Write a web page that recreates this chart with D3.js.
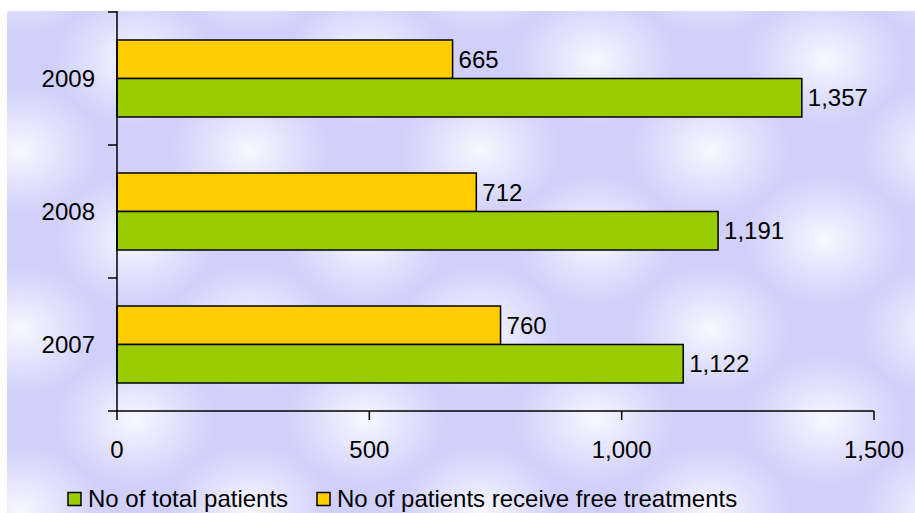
<!DOCTYPE html>
<html>
<head>
<meta charset="utf-8">
<script src="https://cdn.jsdelivr.net/npm/d3@7"></script>
<style>
  body { margin: 0; background: #ffffff; }
  svg text { font-family: "Liberation Sans", Arial, sans-serif; fill: #000; }
</style>
</head>
<body>
<div class="chart"></div>
<script>
// Chart data
var years = ["2009", "2008", "2007"];
var totalPatients = [1357, 1191, 1122];
var freePatients = [665, 712, 760];
var xTicks = [0, 500, 1000, 1500];
var seriesNames = ["No of total patients", "No of patients receive free treatments"];
var seriesColors = ["#99cc00", "#ffcc00"];

var svgWidth = 915;
var svgHeight = 513;

var svg = d3.select(".chart")
  .append("svg")
  .attr("width", svgWidth)
  .attr("height", svgHeight);

// Lavender texture background
var defs = svg.append("defs");
var glow = defs.append("radialGradient").attr("id", "glow");
glow.append("stop").attr("offset", "0%").attr("stop-color", "#ffffff").attr("stop-opacity", 0.85);
glow.append("stop").attr("offset", "50%").attr("stop-color", "#ffffff").attr("stop-opacity", 0.4);
glow.append("stop").attr("offset", "100%").attr("stop-color", "#ffffff").attr("stop-opacity", 0);

var tile = defs.append("pattern")
  .attr("id", "tex")
  .attr("patternUnits", "userSpaceOnUse")
  .attr("x", 20).attr("y", -30)
  .attr("width", 230).attr("height", 180);
tile.append("rect").attr("width", 230).attr("height", 180).attr("fill", "#d0d0fb");
[[0, 0], [230, 0], [0, 180], [230, 180], [115, 90]].forEach(function(p) {
  tile.append("ellipse")
    .attr("cx", p[0]).attr("cy", p[1])
    .attr("rx", 80).attr("ry", 65)
    .attr("fill", "url(#glow)");
});

svg.append("rect")
  .attr("x", 7).attr("y", 11)
  .attr("width", svgWidth - 7).attr("height", svgHeight - 11)
  .attr("fill", "url(#tex)");

// Plot area
var plotLeft = 117, plotRight = 874, plotTop = 12, plotBottom = 411;

var xScale = d3.scaleLinear().domain([0, 1500]).range([plotLeft, plotRight]);
var yBand = d3.scaleBand().domain(years).range([plotTop, plotBottom]);
var barH = 38.5;
var barPad = (yBand.bandwidth() - 2 * barH) / 2;
var fmt = d3.format(",");

// Bars
var chart = svg.append("g");
years.forEach(function(yr, i) {
  var y0 = yBand(yr) + barPad;
  chart.append("rect")
    .attr("x", xScale(0)).attr("y", y0)
    .attr("width", xScale(freePatients[i]) - xScale(0)).attr("height", barH)
    .attr("fill", seriesColors[1]).attr("stroke", "#000").attr("stroke-width", 1.5);
  chart.append("rect")
    .attr("x", xScale(0)).attr("y", y0 + barH)
    .attr("width", xScale(totalPatients[i]) - xScale(0)).attr("height", barH)
    .attr("fill", seriesColors[0]).attr("stroke", "#000").attr("stroke-width", 1.5);

  chart.append("text")
    .attr("x", xScale(freePatients[i]) + 6).attr("y", y0 + barH / 2)
    .attr("dy", "0.36em")
    .attr("font-size", 24)
    .text(fmt(freePatients[i]));
  chart.append("text")
    .attr("x", xScale(totalPatients[i]) + 6).attr("y", y0 + barH * 1.5)
    .attr("dy", "0.36em")
    .attr("font-size", 24)
    .text(fmt(totalPatients[i]));
});

// Y axis
var yAxis = svg.append("g");
yAxis.append("line")
  .attr("x1", plotLeft).attr("x2", plotLeft).attr("y1", plotTop - 1).attr("y2", plotBottom)
  .attr("stroke", "#000").attr("stroke-width", 1.5);
years.concat(["end"]).forEach(function(yr, i) {
  var yy = i < years.length ? yBand(yr) : plotBottom;
  yAxis.append("line")
    .attr("x1", plotLeft - 9).attr("x2", plotLeft).attr("y1", yy).attr("y2", yy)
    .attr("stroke", "#000").attr("stroke-width", 1.5);
});
years.forEach(function(yr) {
  yAxis.append("text")
    .attr("x", 95).attr("y", yBand(yr) + yBand.bandwidth() / 2)
    .attr("dy", "0.36em")
    .attr("text-anchor", "end")
    .attr("font-size", 24)
    .text(yr);
});

// X axis
var xAxis = svg.append("g");
xAxis.append("line")
  .attr("x1", plotLeft).attr("x2", plotRight).attr("y1", plotBottom).attr("y2", plotBottom)
  .attr("stroke", "#000").attr("stroke-width", 1.5);
xTicks.forEach(function(t) {
  xAxis.append("line")
    .attr("x1", xScale(t)).attr("x2", xScale(t)).attr("y1", plotBottom).attr("y2", plotBottom + 9)
    .attr("stroke", "#000").attr("stroke-width", 1.5);
  xAxis.append("text")
    .attr("x", xScale(t)).attr("y", 458)
    .attr("text-anchor", "middle")
    .attr("font-size", 24)
    .text(fmt(t));
});

// Legend
var legendX = [68, 317];
seriesNames.forEach(function(name, i) {
  svg.append("rect")
    .attr("x", legendX[i]).attr("y", 492.5)
    .attr("width", 13).attr("height", 13)
    .attr("fill", seriesColors[i]).attr("stroke", "#000").attr("stroke-width", 1.5);
  svg.append("text")
    .attr("x", legendX[i] + 20).attr("y", 507)
    .attr("font-size", 24)
    .text(name);
});
</script>
</body>
</html>
